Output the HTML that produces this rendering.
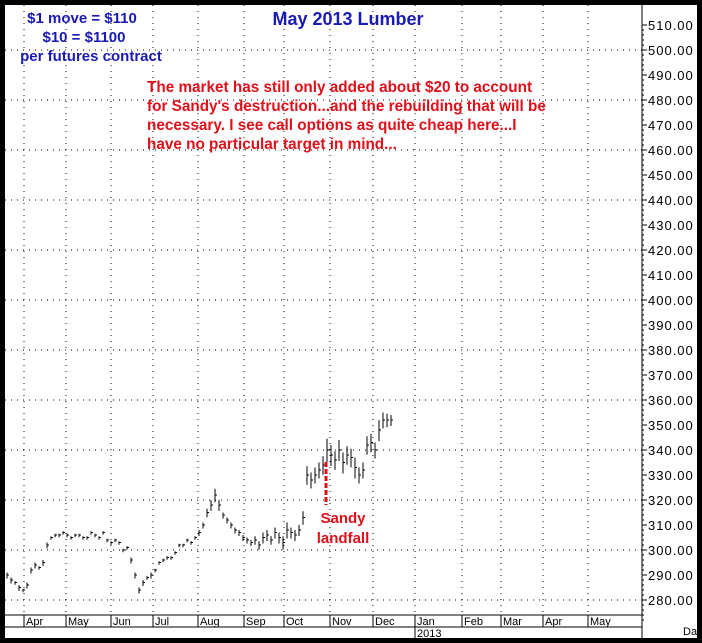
<!DOCTYPE html>
<html><head><meta charset="utf-8"><style>
body{margin:0;background:#000;}
svg{display:block;font-family:"Liberation Sans",sans-serif;}
</style></head><body>
<svg width="702" height="643">
<rect x="0" y="0" width="702" height="643" fill="#000"/>
<rect x="5" y="5" width="692" height="633" fill="#fff"/>
<g id="grid"></g>
<g id="bars"></g>
<g id="axis"></g>
<g id="xaxis"></g>
<text x="348" y="25" text-anchor="middle" fill="#1a1ab4" font-weight="bold" font-size="18">May 2013 Lumber</text>
<g fill="#1a1ab4" font-weight="bold" font-size="15" text-anchor="middle">
<text x="82" y="23">$1 move = $110</text>
<text x="84" y="42">$10 = $1100</text>
<text x="91" y="61">per futures contract</text>
</g>
<g fill="#e0101a" font-weight="bold" font-size="15.3">
<text x="147" y="92">The market has still only added about $20 to account</text>
<text x="147" y="111">for Sandy's destruction...and the rebuilding that will be</text>
<text x="147" y="130">necessary. I see call options as quite cheap here...I</text>
<text x="147" y="149">have no particular target in mind...</text>
</g>
<line x1="326" y1="462" x2="326" y2="505" stroke="#e0101a" stroke-width="3" stroke-dasharray="5,2"/>
<g fill="#e0101a" font-weight="bold" font-size="15" text-anchor="middle">
<text x="343" y="523">Sandy</text>
<text x="343" y="543">landfall</text>
</g>
</svg>
<script>
const yTicks=[510,500,490,480,470,460,450,440,430,420,410,400,390,380,370,360,350,340,330,320,310,300,290,280];
const months=["Apr","May","Jun","Jul","Aug","Sep","Oct","Nov","Dec","Jan","Feb","Mar","Apr","May"];
const monthIdx=[4.25,14.75,26,36.5,47.75,59.25,69.25,80.75,91.5,102,113.75,123.5,134,145.25];
const mids=[290,288,287,285,284,286,292,294,293,295,302,305,306,306,307,306,305,306,306,305,305,307,306,305,307,304,303,304,303,300,301,296,290,284,287,289,290,292,295,296,297,297,299,302,302,304,303,305,307,310,315,318,322,318,314,312,310,308,307,305,304,303,304,302,305,306,304,307,305,303,308,307,306,308,313,330,328,330,332,334,340,338,336,340,335,338,337,333,330,332,342,343,340,348,352,352,352];
const ranges=[2,2,1,2,1,2,2,2,1,2,2,1,1,1,1,1,1,1,1,1,1,1,1,1,1,1,1,1,1,1,1,2,2,2,2,1,2,1,1,1,1,1,1,1,1,1,1,1,2,2,3,4,5,4,2,2,2,2,2,2,2,2,3,3,4,4,3,4,4,5,6,4,4,4,5,7,6,6,6,7,9,8,7,8,8,7,7,8,6,6,7,7,6,8,6,5,4];
const NS="http://www.w3.org/2000/svg";
const L=5,R=642,T=5,B=615;
function y(v){return 25+(510-v)*2.5;}
function x(i){return 7+i*4;}
function mk(t,a,p){const e=document.createElementNS(NS,t);for(const k in a)e.setAttribute(k,a[k]);p.appendChild(e);return e;}
const grid=document.getElementById('grid'),axis=document.getElementById('axis'),bars=document.getElementById('bars'),xa=document.getElementById('xaxis');
yTicks.forEach(v=>{
 if(v%20===0){const g=mk('line',{x1:L,x2:R,y1:y(v),y2:y(v),stroke:'#000','stroke-dasharray':'1,5'},grid);
 
 }
 const t=mk('line',{x1:R,x2:R+5,y1:y(v),y2:y(v),stroke:'#000'},axis);
 
 
 for(let k=1;k<5;k++){const m=mk('line',{x1:R,x2:R+2,y1:y(v-k*2),y2:y(v-k*2),stroke:'#000'},axis);
 
 }
 const tx=mk('text',{x:R+6,y:y(v)+5,'font-size':13,'letter-spacing':1,fill:'#000'},axis);tx.textContent=v.toFixed(2);
 
 
});
const al=mk('line',{x1:R,x2:R,y1:T,y2:B,stroke:'#000'},axis);


mk('line',{x1:L,x2:R,y1:B,y2:B,stroke:'#000'},xa);
mk('line',{x1:L,x2:R,y1:627,y2:627,stroke:'#000'},xa);
mk('line',{x1:R,x2:R,y1:B,y2:638,stroke:'#000'},xa);
months.forEach((m,i)=>{
 const px=x(monthIdx[i]);
 const g=mk('line',{x1:px,x2:px,y1:T,y2:B,stroke:'#000','stroke-dasharray':'1,5'},grid);
 
 
 const t=mk('line',{x1:px,x2:px,y1:B,y2:627,stroke:'#000'},xa);
 
 
 const tx=mk('text',{x:px+2,y:625,'font-size':11,fill:'#000'},xa);tx.textContent=m;
 
 
});
const jx=x(monthIdx[9]);
mk('line',{x1:jx,x2:jx,y1:627,y2:638,stroke:'#000'},xa);
const yr=mk('text',{x:jx+2,y:637,'font-size':11,fill:'#000'},xa);yr.textContent="2013";


const dy=mk('text',{x:683,y:635,'font-size':11,fill:'#000'},xa);dy.textContent="Day";


mids.forEach((m,i)=>{
 const h=m+ranges[i]/2,l=m-ranges[i]/2,px=x(i);
 const b=mk('line',{x1:px,x2:px,y1:y(h),y2:y(l)+1,stroke:'#000','stroke-width':1},bars);
 
 
 const c=mk('line',{x1:px,x2:px+2,y1:y(m),y2:y(m),stroke:'#000'},bars);
 
 
});
</script>
</body></html>
